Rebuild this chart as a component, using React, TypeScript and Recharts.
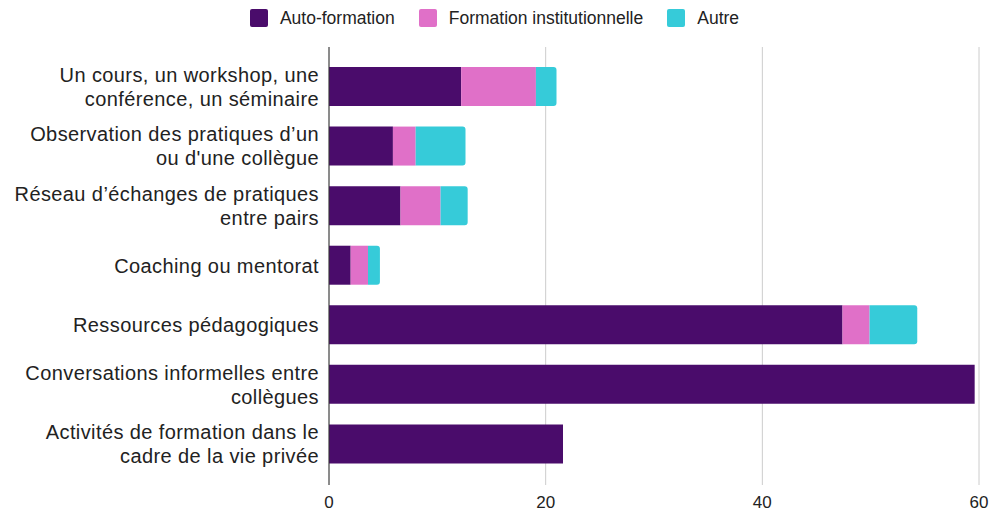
import React from 'react'
import { BarChart, Bar, XAxis, YAxis, CartesianGrid, Legend } from 'recharts'

const categories = [
  'Un cours, un workshop, une\nconférence, un séminaire',
  'Observation des pratiques d’un\nou d\'une collègue',
  'Réseau d’échanges de pratiques\nentre pairs',
  'Coaching ou mentorat',
  'Ressources pédagogiques',
  'Conversations informelles entre\ncollègues',
  'Activités de formation dans le\ncadre de la vie privée',
]

const autoFormation = [12.2, 5.9, 6.6, 2.0, 47.4, 59.6, 21.6]
const formationInstitutionnelle = [6.9, 2.1, 3.7, 1.6, 2.5, 0, 0]
const autre = [1.9, 4.6, 2.5, 1.1, 4.4, 0, 0]

const xTicks = [0, 20, 40, 60]

const COLORS = {
  auto: '#4a0c6b',
  institution: '#e070c8',
  autre: '#36cbd9',
}

const FONT = '"Liberation Sans", Arial, sans-serif'

const data = categories.map((name, i) => ({
  name,
  auto: autoFormation[i],
  institution: formationInstitutionnelle[i],
  autre: autre[i],
}))

const legendItems = [
  { label: 'Auto-formation', color: COLORS.auto },
  { label: 'Formation institutionnelle', color: COLORS.institution },
  { label: 'Autre', color: COLORS.autre },
]

const CategoryTick = ({ x, y, payload }: any) => {
  const lines = String(payload.value).split('\n')
  const lineHeight = 24
  const startDy = -((lines.length - 1) * lineHeight) / 2 + 7
  return (
    <text x={x} y={y} textAnchor="end" fill="#222" fontSize={20} letterSpacing={0.4} fontFamily={FONT}>
      {lines.map((line, i) => (
        <tspan key={i} x={x} dy={i === 0 ? startDy : lineHeight}>
          {line}
        </tspan>
      ))}
    </text>
  )
}

const LegendContent = () => (
  <div style={{ display: 'flex', justifyContent: 'center', alignItems: 'center', fontFamily: FONT, fontSize: 17.5, color: '#222', height: 18 }}>
    {legendItems.map((item, i) => (
      <div key={item.label} style={{ display: 'flex', alignItems: 'center', marginRight: i < legendItems.length - 1 ? 24 : 0 }}>
        <span style={{ width: 18, height: 18, background: item.color, borderRadius: 2, marginRight: 12, display: 'inline-block' }} />
        <span>{item.label}</span>
      </div>
    ))}
  </div>
)

export default function App() {
  return (
    <div style={{ position: 'absolute', left: 0, top: 0, background: '#fff' }}>
      <BarChart
        width={989}
        height={512}
        data={data}
        layout="vertical"
        margin={{ top: 29, right: 10, bottom: 0, left: 0 }}
        barSize={39}
      >
        <CartesianGrid horizontal={false} vertical stroke="#cccccc" />
        <XAxis
          type="number"
          domain={[0, 60]}
          ticks={xTicks}
          axisLine={false}
          tickLine={false}
          tickSize={0}
          tickMargin={11}
          height={27}
          tick={{ fill: '#222', fontSize: 17, fontFamily: FONT }}
        />
        <YAxis
          type="category"
          dataKey="name"
          width={329}
          tickLine={false}
          tickSize={0}
          tickMargin={10}
          axisLine={{ stroke: '#333', strokeWidth: 1 }}
          padding={{ top: 10, bottom: 11 }}
          tick={<CategoryTick />}
          interval={0}
        />
        <Legend
          verticalAlign="top"
          align="center"
          height={18}
          content={<LegendContent />}
          wrapperStyle={{ top: 9, left: 0, width: 989 }}
        />
        <Bar dataKey="auto" name="Auto-formation" stackId="a" fill={COLORS.auto} isAnimationActive={false} />
        <Bar dataKey="institution" name="Formation institutionnelle" stackId="a" fill={COLORS.institution} isAnimationActive={false} />
        <Bar dataKey="autre" name="Autre" stackId="a" fill={COLORS.autre} radius={[0, 3, 3, 0]} isAnimationActive={false} />
      </BarChart>
    </div>
  )
}
